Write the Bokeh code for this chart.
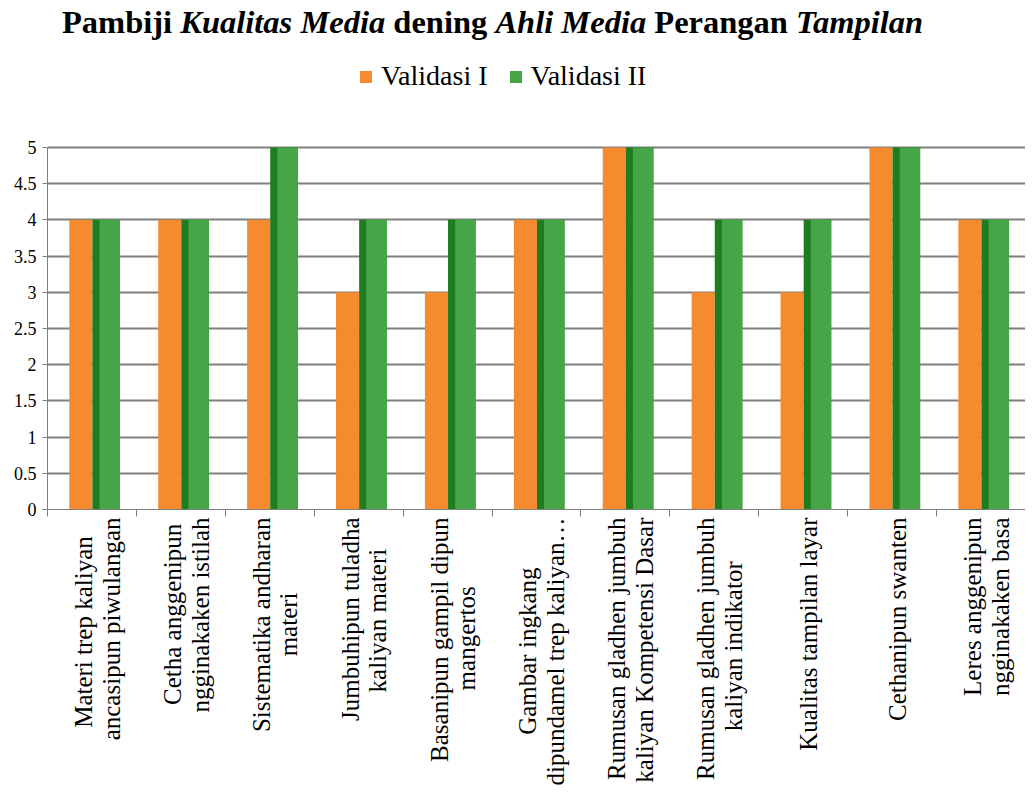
import math
from bokeh.plotting import figure
from bokeh.models import (ColumnDataSource, Div, Legend, LegendItem, FixedTicker,
                          Range1d)
from bokeh.layouts import column
from bokeh.embed import file_html
from bokeh.resources import INLINE

categories = [
    "Materi trep kaliyan\nancasipun piwulangan",
    "Cetha anggenipun\nngginakaken istilah",
    "Sistematika andharan\nmateri",
    "Jumbuhipun tuladha\nkaliyan materi",
    "Basanipun gampil dipun\nmangertos",
    "Gambar ingkang\ndipundamel trep kaliyan\u2026",
    "Rumusan gladhen jumbuh\nkaliyan Kompetensi Dasar",
    "Rumusan gladhen jumbuh\nkaliyan indikator",
    "Kualitas tampilan layar",
    "Cethanipun swanten",
    "Leres anggenipun\nngginakaken basa",
]
validasi_1 = [4, 4, 4, 3, 3, 4, 5, 3, 3, 5, 4]
validasi_2 = [4, 4, 5, 4, 4, 4, 5, 4, 4, 5, 4]
y_ticks = [0, 0.5, 1, 1.5, 2, 2.5, 3, 3.5, 4, 4.5, 5]
y_tick_labels = ["0", "0.5", "1", "1.5", "2", "2.5", "3", "3.5", "4", "4.5", "5"]

# approximate Times-like advance widths (em) used only to centre wrapped lines
_W = {c: 0.5 for c in "abdghknopquvxyz"}
_W.update({"a": .444, "c": .444, "e": .444, "f": .333, "i": .278, "j": .278, "l": .278,
           "m": .778, "r": .333, "s": .389, "t": .278, "w": .722, " ": .25,
           "K": .722, "D": .722, "M": .889, "C": .667, "S": .556, "J": .389,
           "B": .667, "G": .722, "R": .667, "L": .611, "\u2026": 1.0})


def _w(s):
    return sum(_W.get(ch, 0.5) for ch in s)


def centre_lines(label):
    lines = label.split("\n")
    if len(lines) < 2:
        return label
    widest = max(_w(l) for l in lines)
    out = []
    for l in lines:
        k = int(round((widest - _w(l)) / 2 / 0.25))
        out.append(l + "\u00a0" * k)
    return "\n".join(out)


n = len(categories)
idx = list(range(n))
src = ColumnDataSource(dict(
    x1=[i + 0.375 for i in idx],
    x2=[i + 0.66 for i in idx],
    x2f=[i + 0.70 for i in idx],
    v1=validasi_1,
    v2=validasi_2,
))

FONT = "Liberation Serif"
ORANGE = "#F58A2E"
GREEN = "#46A546"
DARKGREEN = "#1E7D1E"

title = Div(
    text=("<div style=\"font-family:'Liberation Serif',serif;font-weight:bold;"
          "font-size:32.5px;line-height:34px;white-space:nowrap;margin-left:57px;margin-top:0px;\">"
          "Pambiji <i>Kualitas Media</i> dening <i>Ahli Media</i> Perangan <i>Tampilan</i>"
          "</div>"),
    width=1000, height=50,
)

p = figure(frame_width=978, frame_height=449, output_backend="svg", toolbar_location=None,
           x_range=Range1d(0, 11.0), y_range=Range1d(0, 6.2),
           min_border_left=47, min_border_right=0, min_border_top=0,
           min_border_bottom=0)

p.outline_line_color = None
p.background_fill_color = "white"

r1 = p.vbar(x="x1", top="v1", width=0.26, bottom=0, source=src,
            fill_color=ORANGE, line_color=None)
p.vbar(x="x2", top="v2", width=0.31, bottom=0, source=src,
       fill_color=DARKGREEN, line_color=None)
r2 = p.vbar(x="x2f", top="v2", width=0.23, bottom=0, source=src,
            fill_color=GREEN, line_color=None)

# axes
label_pos = [i + 0.56 for i in idx]
xax = p.xaxis[0]
xax.ticker = FixedTicker(ticks=label_pos, minor_ticks=[float(i) for i in range(n + 1)])
xax.major_label_overrides = {x: centre_lines(c) for x, c in zip(label_pos, categories)}
xax.major_label_orientation = math.pi / 2
xax.major_label_text_font = FONT
xax.major_label_text_font_size = "25px"
xax.major_label_text_color = "black"
xax.major_label_text_line_height = 1.03
xax.major_tick_out = 0
xax.major_tick_in = 0
xax.minor_tick_out = 7
xax.minor_tick_in = 0
xax.minor_tick_line_color = "#7F7F7F"
xax.axis_line_color = "#7F7F7F"
xax.major_label_standoff = 1

yax = p.yaxis[0]
yax.ticker = FixedTicker(ticks=y_ticks)
yax.bounds = (0, 5)
yax.major_label_overrides = {t: l for t, l in zip(y_ticks, y_tick_labels)}
yax.major_label_text_font = FONT
yax.major_label_text_font_size = "18px"
yax.major_label_text_color = "black"
yax.axis_line_color = "#7F7F7F"
yax.major_tick_line_color = "#7F7F7F"
yax.major_tick_out = 5
yax.major_tick_in = 0
yax.minor_tick_line_color = None
yax.major_label_standoff = 6

p.xgrid.grid_line_color = None
p.ygrid.ticker = FixedTicker(ticks=y_ticks)
p.ygrid.grid_line_color = "#7F7F7F"
p.ygrid.grid_line_width = 2

legend = Legend(items=[LegendItem(label="Validasi I", renderers=[r1]),
                       LegendItem(label="Validasi II", renderers=[r2])],
                orientation="horizontal", location=(311, 417))
legend.label_text_font = "'Liberation Serif', serif"
legend.label_text_font_size = "28px"
legend.label_text_color = "black"
legend.glyph_width = 15
legend.glyph_height = 15
legend.label_standoff = 8
legend.spacing = 20
legend.border_line_color = None
legend.background_fill_alpha = 0
legend.margin = 0
legend.padding = 2
p.add_layout(legend, "center")

layout = column(title, p, spacing=0)
open("out.html", "w").write(file_html(layout, INLINE))
